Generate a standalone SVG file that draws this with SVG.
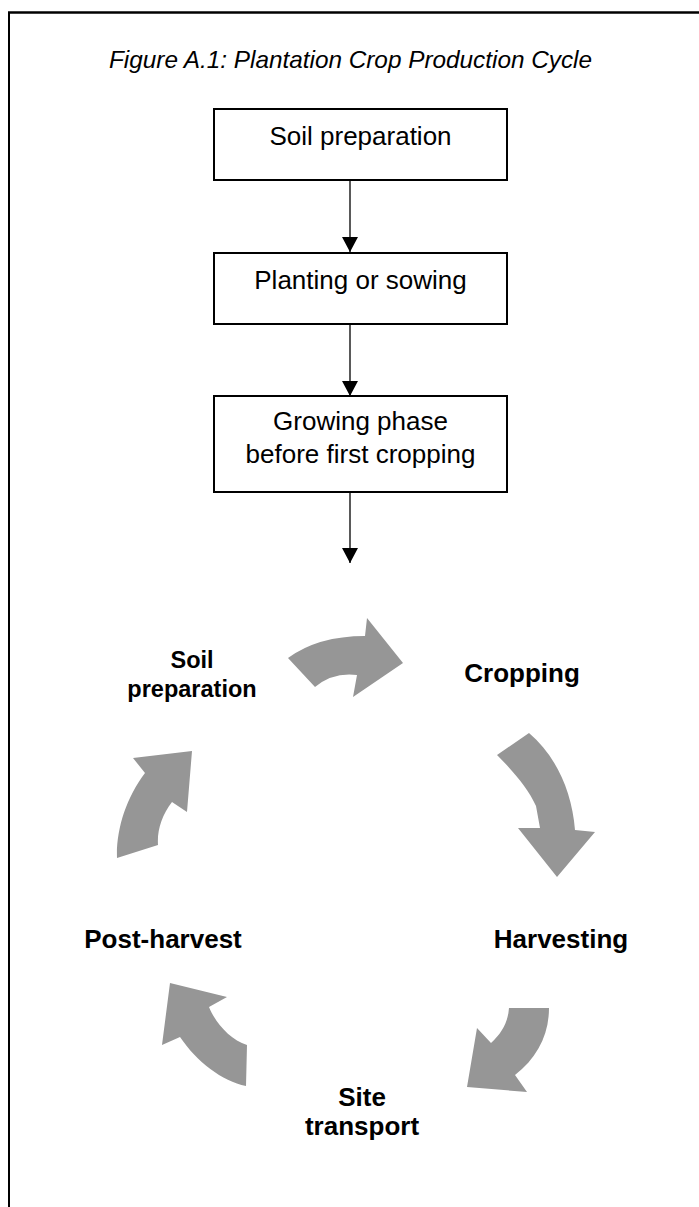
<svg xmlns="http://www.w3.org/2000/svg" width="699" height="1207" viewBox="0 0 699 1207">
<style>
.box{fill:#fff;stroke:#000;stroke-width:2}
.bt{font-family:"Liberation Sans",Arial,sans-serif;font-size:26px;fill:#000;text-anchor:middle}
.lbl{font-family:"Liberation Sans",Arial,sans-serif;font-weight:bold;fill:#000;text-anchor:middle}
.conn{stroke:#000;stroke-width:1.3;fill:none}
.cyc{fill:#969696}
</style>
<defs>
<marker id="ah" markerWidth="15" markerHeight="16" refX="15" refY="8" orient="auto" markerUnits="userSpaceOnUse" viewBox="0 0 15 16">
<path d="M0,0 L15,8 L0,16 Z" fill="#000"/>
</marker>
</defs>
<rect width="699" height="1207" fill="#fff"/>
<g id="frame">
<line x1="8" y1="12.5" x2="699" y2="12.5" stroke="#000" stroke-width="2.5"/>
<line x1="9" y1="12" x2="9" y2="1207" stroke="#000" stroke-width="2"/>
</g>
<text id="title" x="350.5" y="68" text-anchor="middle" textLength="483" lengthAdjust="spacingAndGlyphs" font-family="'Liberation Sans',Arial,sans-serif" font-style="italic" font-size="24" fill="#000">Figure A.1: Plantation Crop Production Cycle</text>
<g id="connectors">
<line class="conn" x1="350" y1="180" x2="350" y2="252" marker-end="url(#ah)"/>
<line class="conn" x1="350" y1="324" x2="350" y2="396" marker-end="url(#ah)"/>
<line class="conn" x1="350" y1="492" x2="350" y2="563" marker-end="url(#ah)"/>
</g>
<g id="n1"><rect class="box" x="214" y="109" width="293" height="71"/><text class="bt" x="360.5" y="145">Soil preparation</text></g>
<g id="n2"><rect class="box" x="214" y="253" width="293" height="71"/><text class="bt" x="360.5" y="289">Planting or sowing</text></g>
<g id="n3"><rect class="box" x="214" y="396" width="293" height="96"/><text class="bt" x="360.5" y="430">Growing phase</text><text class="bt" x="360.5" y="463">before first cropping</text></g>
<g id="cycle-arrows">
<path class="cyc" d="M288,658 Q318,636 365,636 L367,618 L403,663 L353,697 L357,675 Q333,672 315,687 Z"/>
<path class="cyc" d="M497,755 C512,770 528,788 536,806 L540,828 L518,828 L557,877 L595,832 L575,830 C572,790 555,755 529,733 Z"/>
<path class="cyc" d="M509,1008 L549,1008 C549,1035 537,1058 515,1075 L527,1092 L467,1087 L477,1028 L491,1043 C502,1033 508,1022 509,1008 Z"/>
<path class="cyc" d="M246,1086 C222,1081 197,1062 180,1037 L162,1045 L170,983 L227,997 L209,1007 C215,1022 230,1040 247,1045 Z"/>
<path class="cyc" d="M117,858 C116,830 126,798 145,773 L133,758 L192,751 L187,812 L172,802 C162,815 157,830 158,845 Z"/>
</g>
<g id="soil"><text class="lbl" font-size="23.5" x="192" y="668">Soil</text><text class="lbl" font-size="23.5" x="192" y="697">preparation</text></g>
<g id="cropping"><text class="lbl" font-size="26" x="522" y="682">Cropping</text></g>
<g id="harvesting"><text class="lbl" font-size="26" x="561" y="948">Harvesting</text></g>
<g id="transport"><text class="lbl" font-size="26" x="362" y="1106">Site</text><text class="lbl" font-size="26" x="362" y="1135">transport</text></g>
<g id="postharvest"><text class="lbl" font-size="26" x="163" y="948">Post-harvest</text></g>
</svg>
